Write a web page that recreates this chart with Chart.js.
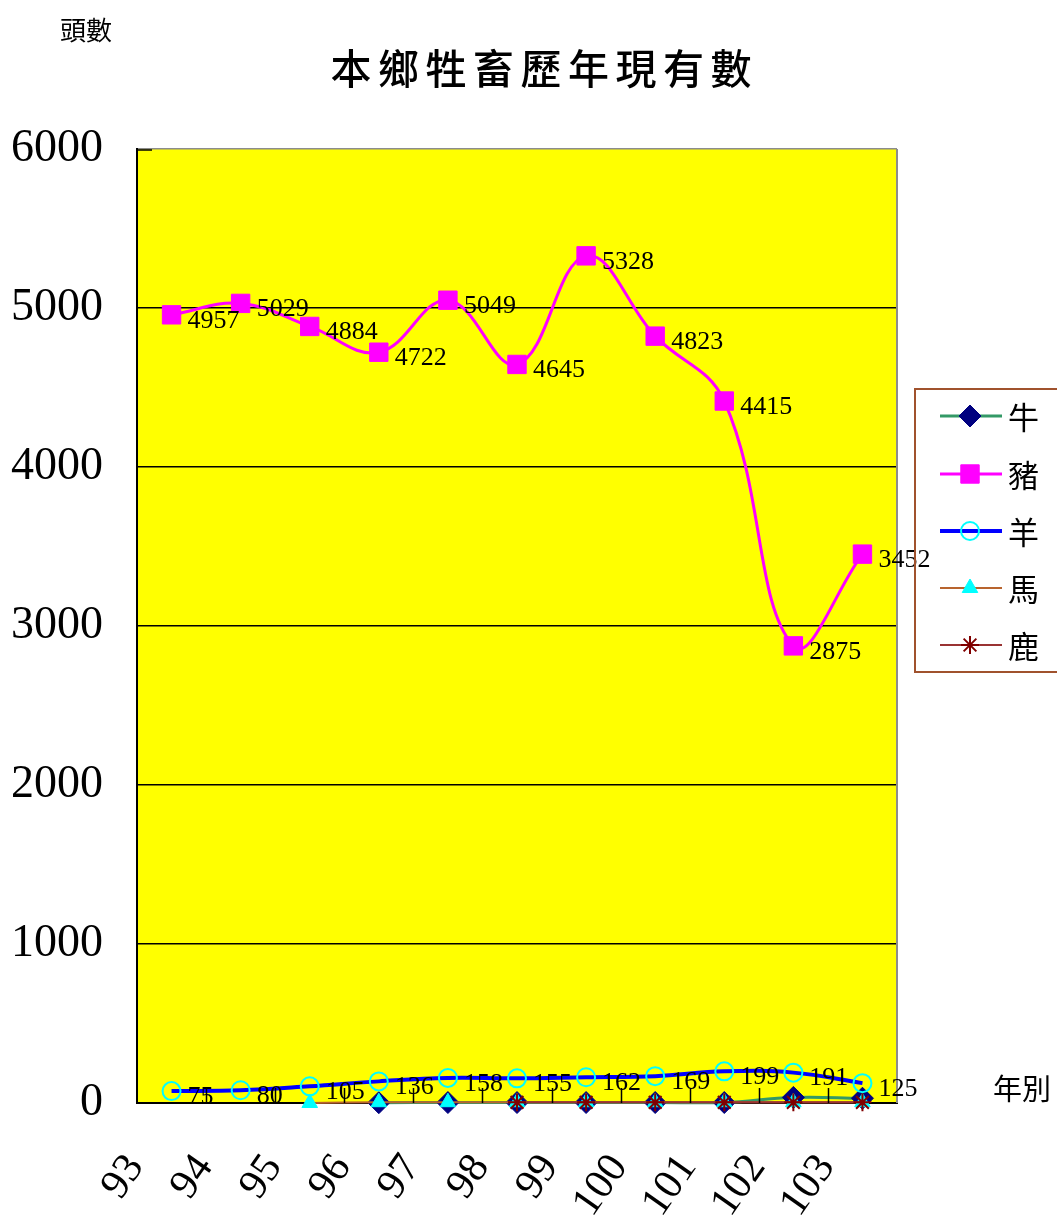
<!DOCTYPE html>
<html>
<head>
<meta charset="utf-8">
<script src="https://cdn.jsdelivr.net/npm/chart.js@4.4.0/dist/chart.umd.min.js"></script>
<style>
    html, body { margin: 0; padding: 0; background: #ffffff; }
    #wrap { width: 1057px; height: 1230px; position: relative; }
</style>
</head>
<body>
<div id="wrap"><canvas id="livestockChart" width="1057" height="1230"></canvas></div>
<script>
// chart data
const years = ['93', '94', '95', '96', '97', '98', '99', '100', '101', '102', '103'];
const cattle = [null, null, null, 2, 3, 3, 3, 3, 3, 35, 30];
const pigs = [4957, 5029, 4884, 4722, 5049, 4645, 5328, 4823, 4415, 2875, 3452];
const sheep = [75, 80, 105, 136, 158, 155, 162, 169, 199, 191, 125];
const horses = [null, null, 0, 5, 5, 5, 5, 5, 5, 5, 5];
const deer = [null, null, null, null, null, 4, 4, 4, 4, 4, 4];
const yTicks = [0, 1000, 2000, 3000, 4000, 5000, 6000];

const seriesNames = ['牛', '豬', '羊', '馬', '鹿'];
const SERIF = '"Liberation Serif", "DejaVu Serif", serif';
const CJK = '"Noto Sans CJK TC", "Noto Sans CJK SC", sans-serif';

// draws titles, rotated year labels, value labels and the legend box
const decorPlugin = {
    id: 'decor',
    afterDatasetsDraw(chart) {
        const ctx = chart.ctx;
        const area = chart.chartArea;
        const xs = chart.scales.x;
        const ys = chart.scales.y;

        ctx.save();

        // right border in grey
        ctx.strokeStyle = '#8c8c8c';
        ctx.lineWidth = 2;
        ctx.beginPath();
        ctx.moveTo(area.right, area.top);
        ctx.lineTo(area.right, area.bottom);
        ctx.stroke();

        // short inward tick marks at category boundaries
        ctx.strokeStyle = '#000000';
        ctx.lineWidth = 1.5;
        const step = (area.right - area.left) / years.length;
        for (let i = 1; i < years.length; i++) {
            const x = Math.round(area.left + step * i) + 0.5;
            ctx.beginPath();
            ctx.moveTo(x, area.bottom);
            ctx.lineTo(x, area.bottom - 15);
            ctx.stroke();
        }
        ctx.beginPath();
        ctx.moveTo(area.left, area.top + 1);
        ctx.lineTo(area.left + 15, area.top + 1);
        ctx.stroke();

        // value labels for pigs and sheep
        ctx.fillStyle = '#000000';
        ctx.font = '26px ' + SERIF;
        ctx.textAlign = 'left';
        ctx.textBaseline = 'middle';
        [pigs, sheep].forEach(series => {
            series.forEach((v, i) => {
                const px = xs.getPixelForValue(i);
                const py = ys.getPixelForValue(v);
                ctx.fillText(String(v), px + 16, py + 6);
            });
        });

        // rotated year labels
        ctx.font = '42px ' + SERIF;
        ctx.textAlign = 'right';
        years.forEach((y, i) => {
            const px = xs.getPixelForValue(i);
            ctx.save();
            ctx.translate(px - 36, 1160);
            ctx.rotate(-55 * Math.PI / 180);
            ctx.fillText(y, 0, 0);
            ctx.restore();
        });

        // title and axis captions
        ctx.textAlign = 'center';
        ctx.textBaseline = 'middle';
        ctx.font = '500 41px ' + CJK;
        const title = '本鄉牲畜歷年現有數';
        const cw = 47.5;
        const tx0 = 541 - cw * (title.length - 1) / 2;
        for (let i = 0; i < title.length; i++) {
            ctx.fillText(title[i], tx0 + cw * i, 68);
        }
        ctx.font = '26px ' + CJK;
        ctx.textAlign = 'left';
        ctx.fillText('頭數', 60, 30);
        ctx.font = '29px ' + CJK;
        ctx.fillText('年別', 993, 1089);

        // legend box
        ctx.strokeStyle = '#a0522d';
        ctx.lineWidth = 2;
        ctx.strokeRect(915, 389, 150, 283);
        const rowsY = [416, 474, 531, 588, 645];
        chart.data.datasets.forEach((ds, i) => {
            const ly = rowsY[i];
            ctx.strokeStyle = ds.borderColor;
            ctx.lineWidth = ds.borderWidth;
            ctx.beginPath();
            ctx.moveTo(940, ly);
            ctx.lineTo(1002, ly);
            ctx.stroke();
            ctx.fillStyle = ds.pointBackgroundColor;
            ctx.strokeStyle = ds.pointBorderColor;
            ctx.lineWidth = ds.pointBorderWidth;
            Chart.helpers.drawPoint(ctx, {
                pointStyle: ds.pointStyle,
                radius: ds.pointRadius,
                rotation: 0,
                borderWidth: ds.pointBorderWidth
            }, 970, ly);
            ctx.fillStyle = '#000000';
            ctx.font = '31px ' + CJK;
            ctx.textAlign = 'left';
            ctx.fillText(seriesNames[i], 1008, ly + 1);
        });

        ctx.restore();
    }
};

// yellow plot background
const bgPlugin = {
    id: 'plotBg',
    beforeDraw(chart) {
        const a = chart.chartArea;
        const ctx = chart.ctx;
        ctx.save();
        ctx.fillStyle = '#ffff00';
        ctx.fillRect(a.left, a.top, a.right - a.left, a.bottom - a.top);
        ctx.restore();
    }
};

new Chart(document.getElementById('livestockChart'), {
    type: 'line',
    data: {
        labels: years,
        datasets: [
            {
                label: seriesNames[0], data: cattle,
                borderColor: '#339966', borderWidth: 3, tension: 0.4,
                pointStyle: 'rectRot', pointRadius: 11,
                pointBackgroundColor: '#000080', pointBorderColor: '#000080', pointBorderWidth: 1,
                order: 4
            },
            {
                label: seriesNames[1], data: pigs,
                borderColor: '#ff00ff', borderWidth: 3, tension: 0.4,
                pointStyle: 'rect', pointRadius: 13,
                pointBackgroundColor: '#ff00ff', pointBorderColor: '#ff00ff', pointBorderWidth: 1,
                order: 1
            },
            {
                label: seriesNames[2], data: sheep,
                borderColor: '#0000ff', borderWidth: 4, tension: 0.4,
                pointStyle: 'circle', pointRadius: 9,
                pointBackgroundColor: 'rgba(0,0,0,0)', pointBorderColor: '#00ffff', pointBorderWidth: 2,
                order: 2
            },
            {
                label: seriesNames[3], data: horses,
                borderColor: '#b8642e', borderWidth: 2, tension: 0.4,
                pointStyle: 'triangle', pointRadius: 9,
                pointBackgroundColor: '#00ffff', pointBorderColor: '#00ffff', pointBorderWidth: 1,
                order: 3
            },
            {
                label: seriesNames[4], data: deer,
                borderColor: '#993333', borderWidth: 2, tension: 0.4,
                pointStyle: 'star', pointRadius: 9,
                pointBackgroundColor: '#800000', pointBorderColor: '#800000', pointBorderWidth: 2,
                order: 0
            }
        ]
    },
    options: {
        responsive: false,
        animation: false,
        clip: false,
        layout: { padding: { top: 149, right: 160, bottom: 0, left: 0 } },
        plugins: {
            legend: { display: false },
            title: { display: false },
            tooltip: { enabled: false }
        },
        scales: {
            x: {
                offset: true,
                grid: { display: false },
                border: { color: '#000000', width: 2 },
                ticks: { display: false },
                afterFit(scale) { scale.height = 127; }
            },
            y: {
                min: 0,
                max: 6000,
                afterBuildTicks(scale) {
                    scale.ticks = yTicks.map(v => ({ value: v }));
                },
                grid: {
                    color: ctx => (ctx.tick && ctx.tick.value === 6000 ? '#8c8c8c' : '#000000'),
                    lineWidth: 1.5,
                    drawTicks: false
                },
                border: { color: '#000000', width: 2 },
                ticks: {
                    color: '#000000',
                    padding: 34,
                    font: { family: SERIF, size: 46 },
                    callback: v => String(v)
                },
                afterFit(scale) { scale.width = 137; }
            }
        }
    },
    plugins: [bgPlugin, decorPlugin]
});
</script>
</body>
</html>
